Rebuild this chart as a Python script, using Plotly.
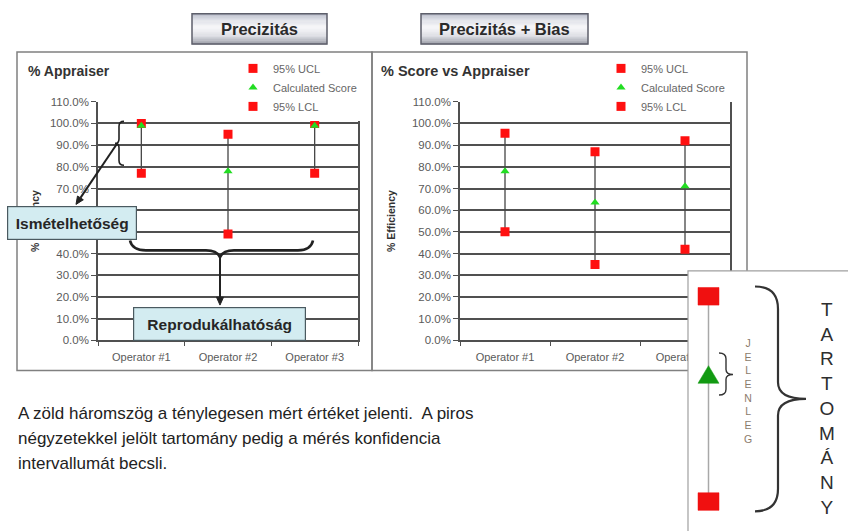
import plotly.graph_objects as go

W, H = 848, 531
FONT = "Liberation Sans, Arial, sans-serif"

# ---- data -------------------------------------------------------------
operators = ["Operator #1", "Operator #2", "Operator #3"]

# Precizitás chart (% Appraiser)
prec_ucl = [100, 95, 100]
prec_score = [99, 78, 99]
prec_lcl = [77, 49, 77]

# Precizitás + Bias chart (% Score vs Appraiser)
bias_ucl = [95.5, 87, 92]
bias_score = [78, 63.5, 71]
bias_lcl = [50, 35, 42]

y_ticks = [0, 10, 20, 30, 40, 50, 60, 70, 80, 90, 100, 110]
y_tick_labels = ["0.0%", "10.0%", "20.0%", "30.0%", "40.0%", "50.0%",
                 "60.0%", "70.0%", "80.0%", "90.0%", "100.0%", "110.0%"]
series_names = ["95% UCL", "Calculated Score", "95% LCL"]


# ---- helpers for page-level drawing (pixel -> paper) -------------------
def px(x):
    return x / W


def py(y):
    return 1 - y / H


def path(segments):
    out = []
    for seg in segments:
        cmd, nums = seg[0], seg[1:]
        if cmd == "Z":
            continue
        pts = []
        for i in range(0, len(nums), 2):
            pts.append(f"{px(nums[i]):.5f},{py(nums[i + 1]):.5f}")
        out.append(cmd + " " + " ".join(pts))
    return " ".join(out) + (" Z" if segments and segments[-1][0] == "Z" else "")


def hex_to_rgb(h):
    h = h.lstrip("#")
    return tuple(int(h[i:i + 2], 16) for i in (0, 2, 4))


def blend(stops, t):
    for (t0, c0), (t1, c1) in zip(stops[:-1], stops[1:]):
        if t0 <= t <= t1:
            f = (t - t0) / (t1 - t0) if t1 > t0 else 0
            a, b = hex_to_rgb(c0), hex_to_rgb(c1)
            return "rgb(%d,%d,%d)" % tuple(round(a[k] + (b[k] - a[k]) * f) for k in range(3))
    return stops[-1][1]


shapes = []
annotations = []


def rect(x0, y0, x1, y1, fill="rgba(0,0,0,0)", line="#777", width=1.5, layer="above"):
    shapes.append(dict(type="rect", xref="paper", yref="paper",
                       x0=px(x0), x1=px(x1), y0=py(y1), y1=py(y0),
                       fillcolor=fill, line=dict(color=line, width=width), layer=layer))


def gradient_rect(x0, y0, x1, y1, stops, border, n=24):
    h = (y1 - y0) / n
    for i in range(n):
        c = blend(stops, (i + 0.5) / n)
        shapes.append(dict(type="rect", xref="paper", yref="paper",
                           x0=px(x0), x1=px(x1), y0=py(y0 + (i + 1) * h + 0.3), y1=py(y0 + i * h),
                           fillcolor=c, line=dict(width=0), layer="above"))
    rect(x0, y0, x1, y1, line=border, width=1.5)


def curve(segments, color="#222", width=2):
    shapes.append(dict(type="path", xref="paper", yref="paper", path=path(segments),
                       line=dict(color=color, width=width), layer="above"))


def arrow(x0, y0, x1, y1, color="#222", width=1.8, head=8, half=3.5):
    dx, dy = x1 - x0, y1 - y0
    L = (dx * dx + dy * dy) ** 0.5
    ux, uy = dx / L, dy / L
    bx, by = x1 - head * ux, y1 - head * uy
    shapes.append(dict(type="line", xref="paper", yref="paper",
                       x0=px(x0), y0=py(y0), x1=px(bx), y1=py(by),
                       line=dict(color=color, width=width), layer="above"))
    nx, ny = -uy, ux
    shapes.append(dict(type="path", xref="paper", yref="paper",
                       path=path([("M", x1, y1), ("L", bx + half * nx, by + half * ny),
                                  ("L", bx - half * nx, by - half * ny), ("Z",)]),
                       fillcolor=color, line=dict(color=color, width=1), layer="above"))


def text(x, y, s, size, color="#222", anchor="center", **kw):
    annotations.append(dict(xref="paper", yref="paper", x=px(x), y=py(y), text=s,
                            showarrow=False, xanchor=anchor, yanchor="middle",
                            font=dict(family=FONT, size=size, color=color), **kw))


# ---- figure & traces ---------------------------------------------------
fig = go.Figure()

charts = [
    ("x", "y", "legend", prec_ucl, prec_score, prec_lcl),
    ("x2", "y2", "legend2", bias_ucl, bias_score, bias_lcl),
]

for xa, ya, leg, ucl, score, lcl in charts:
    link_x, link_y = [], []
    for op, hi, lo in zip(operators, ucl, lcl):
        link_x += [op, op, None]
        link_y += [hi, lo, None]
    fig.add_trace(go.Scatter(x=link_x, y=link_y, mode="lines", xaxis=xa, yaxis=ya,
                             line=dict(color="#454545", width=1.3),
                             showlegend=False, hoverinfo="skip"))
    fig.add_trace(go.Scatter(x=operators, y=ucl, mode="markers", name=series_names[0],
                             xaxis=xa, yaxis=ya, legend=leg,
                             marker=dict(symbol="square", size=9, color="#ff1010")))
    fig.add_trace(go.Scatter(x=operators, y=score, mode="markers", name=series_names[1],
                             xaxis=xa, yaxis=ya, legend=leg,
                             marker=dict(symbol="triangle-up", size=8, color="#22dd22")))
    fig.add_trace(go.Scatter(x=operators, y=lcl, mode="markers", name=series_names[2],
                             xaxis=xa, yaxis=ya, legend=leg,
                             marker=dict(symbol="square", size=9, color="#ff1010")))

y_dom = [py(342), py(98)]
yaxis_style = dict(range=[0, 110], tickmode="array", tickvals=y_ticks, ticktext=y_tick_labels,
                   showgrid=True, gridcolor="#505050", gridwidth=1.5, zeroline=False,
                   showline=True, linecolor="#505050", linewidth=1.5, mirror=True,
                   ticks="outside", ticklen=5, tickcolor="#505050",
                   tickfont=dict(family=FONT, size=11.5, color="#5a5a5a"),
                   domain=y_dom, fixedrange=True)
xaxis_style = dict(type="category", categoryorder="array", categoryarray=operators,
                   range=[-0.5, 2.5], showgrid=False, zeroline=False,
                   showline=True, linecolor="#505050", linewidth=1.5,
                   ticks="outside", tickson="boundaries", ticklen=4, tickcolor="#505050",
                   ticklabelstandoff=6,
                   tickfont=dict(family=FONT, size=11, color="#5a5a5a"), fixedrange=True)

legend_style = dict(xanchor="left", yanchor="top", bgcolor="white", borderwidth=0,
                    font=dict(family=FONT, size=11, color="#666"), tracegroupgap=0,
                    itemwidth=30)

# ---- chart frames ------------------------------------------------------
rect(17, 47, 372, 373, line="#808080", width=1.5, layer="below")
rect(372, 47, 747, 373, line="#808080", width=1.5, layer="below")

# ---- header buttons ----------------------------------------------------
btn_stops = [(0, "#b4b8c6"), (0.18, "#dcdee6"), (0.45, "#f7f7f9"),
             (0.72, "#dedfe5"), (1, "#9c9ea9")]
gradient_rect(192, 8, 327, 39, btn_stops, "#5d5f6b")
gradient_rect(421, 8, 588, 39, btn_stops, "#5d5f6b")
text(259.5, 24, "<b>Precizitás</b>", 16.5, "#2a2a2a")
text(504.5, 24, "<b>Precizitás + Bias</b>", 16.5, "#2a2a2a")

# ---- chart titles and axis titles -------------------------------------
text(26, 67, "<b>% Appraiser</b>", 14, "#333", anchor="left")
text(379, 67, "<b>% Score vs Appraiser</b>", 14.5, "#333", anchor="left")
text(35, 220, "<b>% Efficiency</b>", 10.5, "#333", textangle=-90)
text(391, 220, "<b>% Efficiency</b>", 10.5, "#333", textangle=-90)

# ---- repeatability / reproducibility call-outs ------------------------
curve([("M", 124, 118), ("Q", 119, 118, 119, 123), ("L", 119, 136),
       ("Q", 119, 140.5, 115, 140.5), ("Q", 119, 140.5, 119, 145), ("L", 119, 158),
       ("Q", 119, 163, 124, 163)], color="#222", width=1.6)
arrow(117, 141, 76, 203, width=2)

curve([("M", 130, 240), ("Q", 132, 250, 146, 250), ("L", 206, 250),
       ("Q", 217, 250, 220, 257), ("Q", 223, 250, 234, 250), ("L", 298, 250),
       ("Q", 311, 250, 313, 240)], color="#222", width=2.6)
arrow(220, 257, 220, 306, width=2)

annotations.append(dict(xref="paper", yref="paper", x=px(72), y=py(222),
                        text="<b>Ismételhetőség</b>", showarrow=False,
                        xanchor="center", yanchor="middle", width=128, height=32,
                        bgcolor="#d3ecf1", bordercolor="#4a5a60", borderwidth=1.2, borderpad=0,
                        font=dict(family=FONT, size=15.5, color="#262626")))
annotations.append(dict(xref="paper", yref="paper", x=px(219.5), y=py(325),
                        text="<b>Reprodukálhatóság</b>", showarrow=False,
                        xanchor="center", yanchor="middle", width=171, height=32,
                        bgcolor="#d3ecf1", bordercolor="#4a5a60", borderwidth=1.2, borderpad=0,
                        font=dict(family=FONT, size=15.5, color="#262626")))

# ---- explanatory inset (range vs. current value) -----------------------
rect(688, 271, 856, 540, fill="white", line="#a0a0a0", width=1.2)
shapes.append(dict(type="line", xref="paper", yref="paper",
                   x0=px(708.5), x1=px(708.5), y0=py(297), y1=py(507),
                   line=dict(color="#a8a8a8", width=1.5), layer="above"))
rect(698, 288, 719, 306, fill="#f01010", line="#f01010", width=0.5)
rect(698, 498, 719, 516, fill="#f01010", line="#f01010", width=0.5)
shapes.append(dict(type="path", xref="paper", yref="paper",
                   path=path([("M", 698, 386), ("L", 719, 386), ("L", 708.5, 368), ("Z",)]),
                   fillcolor="#129a12", line=dict(color="#129a12", width=0.5), layer="above"))
curve([("M", 719, 355), ("Q", 726, 355, 726, 361), ("L", 726, 372),
       ("Q", 726, 377, 733, 377), ("Q", 726, 377, 726, 382), ("L", 726, 392),
       ("Q", 726, 398, 719, 398)], color="#333", width=1.4)
curve([("M", 755, 287), ("Q", 778, 287, 778, 310), ("L", 778, 385),
       ("Q", 778, 402, 806, 402), ("Q", 778, 402, 778, 419), ("L", 778, 494),
       ("Q", 778, 517, 755, 517)], color="#333", width=2.2)
text(748, 394, "<br>".join("JELENLEG"), 10.5, "#8c7b6b")
text(827, 412, "<br>".join("TARTOMÁNY"), 19, "#2e2e2e")

# ---- caption -----------------------------------------------------------
caption = [
    "A zöld háromszög a ténylegesen mért értéket jelenti.  A piros",
    "négyzetekkel jelölt tartomány pedig a mérés konfidencia",
    "intervallumát becsli.",
]
for i, line in enumerate(caption):
    text(16, 417 + i * 25.5, line, 17, "#222", anchor="left")

fig.update_layout(
    width=W, height=H, autosize=False,
    margin=dict(l=0, r=0, t=0, b=0),
    paper_bgcolor="white", plot_bgcolor="white",
    font=dict(family=FONT),
    xaxis=dict(domain=[px(98), px(358)], anchor="y", **xaxis_style),
    yaxis=dict(anchor="x", **yaxis_style),
    xaxis2=dict(domain=[px(460), px(730)], anchor="y2", **xaxis_style),
    yaxis2=dict(anchor="x2", **yaxis_style),
    legend=dict(x=px(233), y=py(49), **legend_style),
    legend2=dict(x=px(601), y=py(49), **legend_style),
    shapes=shapes,
    annotations=annotations,
    hovermode=False,
)

fig.write_html("out.html")
